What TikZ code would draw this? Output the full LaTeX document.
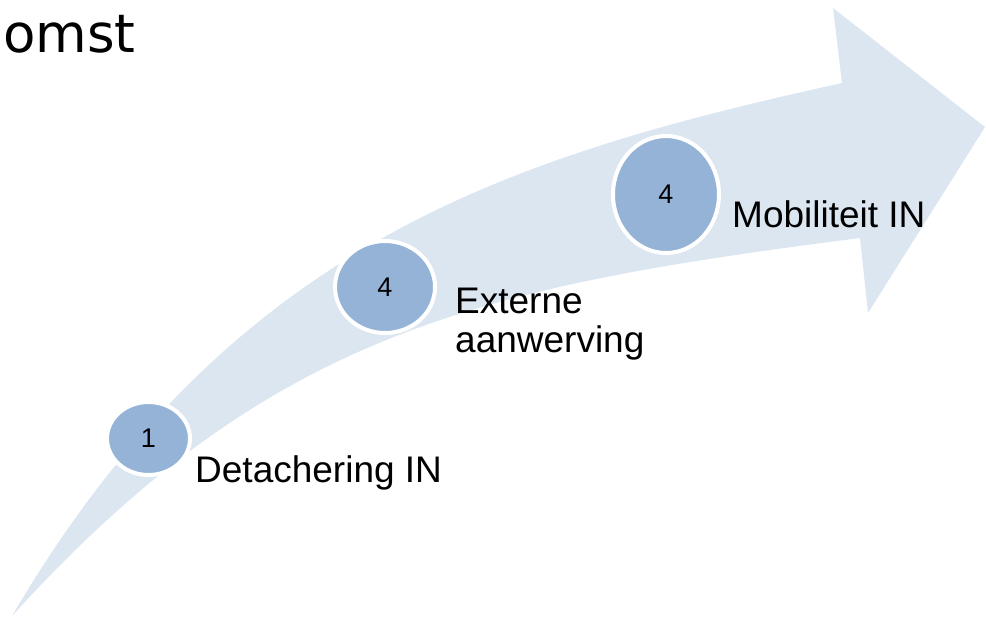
\documentclass[tikz,border=0pt]{standalone}
\usepackage{fontspec}
\setmainfont{Liberation Sans}
\newfontfamily\titlefont{DejaVu Sans}
\usetikzlibrary{shapes.geometric}
\definecolor{bandblue}{HTML}{DCE6F1}
\definecolor{stageblue}{HTML}{95B3D7}

\begin{document}
\begin{tikzpicture}[x=1pt, y=-1pt,
			stage/.style={draw=white, line width=4pt, fill=stageblue, ellipse, inner sep=0pt, font=\fontsize{27}{27}\selectfont},
			caption/.style={inner sep=0pt, align=left, font=\fontsize{37}{39}\selectfont}]
			\useasboundingbox (0,0) rectangle (986,622);
			\fill[bandblue] (12,616) .. controls (232,241) and (512,156) .. (842,83) -- (833,8) -- (985,127) -- (868,313) -- (860,238) .. controls (480,287) and (272,330) .. (12,616) -- cycle;
			
			\node[anchor=base west, inner sep=0pt, font=\titlefont\fontsize{53}{53}\selectfont](title) at (3,52) {omst};
			
			\node[stage, minimum width=83pt, minimum height=73pt](node1) at (148.5,438.5) {1};
			\node[stage, minimum width=100pt, minimum height=92pt](node2) at (385,287) {4};
			\node[stage, minimum width=106pt, minimum height=117pt](node3) at (666,194.5) {4};
			
			\node[caption, anchor=base west](text1) at (195,482) {Detachering IN};
			\node[caption, anchor=base west](text2) at (455,352) {Externe\\aanwerving};
			\node[caption, anchor=base west](text3) at (732,227) {Mobiliteit IN};
			
		\end{tikzpicture}
\end{document}
